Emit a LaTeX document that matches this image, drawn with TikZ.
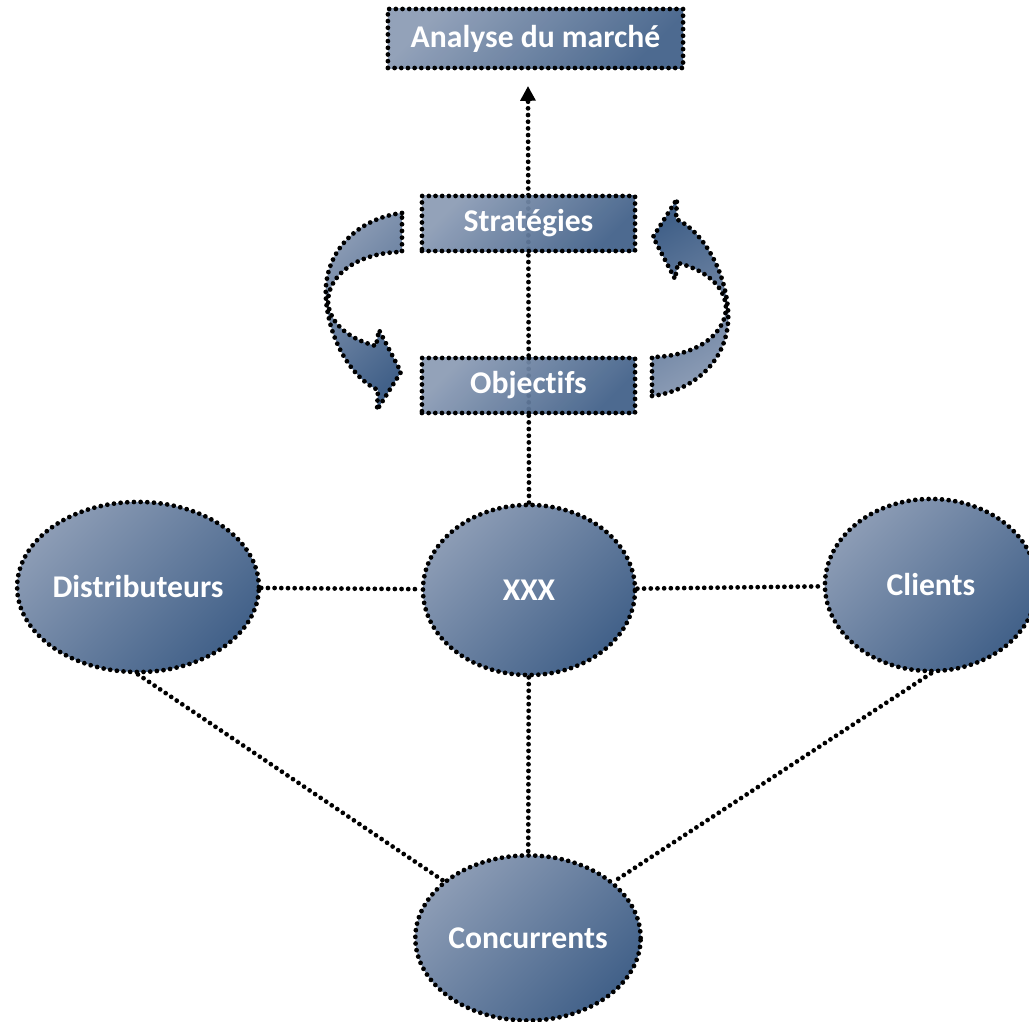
\documentclass[tikz,border=0pt]{standalone}
\usepackage{fontspec}
\setmainfont{Carlito}[Ligatures=NoCommon]
\usetikzlibrary{shapes.geometric,arrows.meta,backgrounds}
\definecolor{clair}{RGB}{140,156,181}
\definecolor{fonce}{RGB}{66,97,137}
% contour of the left curved arrow (pixel units)
\newcommand{\flechecourbe}{(402,213) .. controls (360,218) and (322,250) .. (326,300)
	.. controls (330,345) and (355,380) .. (378,390) -- (377,410) -- (401,372)
	-- (379,330) -- (376,346) .. controls (345,338) and (328,320) .. (328,300)
	.. controls (330,270) and (365,252) .. (402,252) -- cycle}

\begin{document}
\begin{tikzpicture}[x=0.01cm,y=-0.01cm]
	\tikzstyle{every node}=[font=\fontsize{9}{11}\selectfont\bfseries, text=white];
	\tikzstyle{pointille}=[line width=1.35pt, dash pattern=on 0pt off 1.9pt, line cap=round];
	\tikzstyle{degrade}=[top color=clair, bottom color=fonce, shading angle=45];
	\tikzstyle{boite}=[rectangle, draw, pointille, degrade, inner sep=0pt, fill opacity=0.94, text opacity=1];
	\tikzstyle{bulle}=[ellipse, draw, pointille, degrade, inner sep=0pt];
	\useasboundingbox (0,0) rectangle (1029,1022);

	\node [boite, minimum width=2.95cm, minimum height=0.59cm] (analyse) at (535.5,38.5) {Analyse du marché};
	\node [boite, minimum width=2.13cm, minimum height=0.55cm] (strategies) at (528.5,223.5) {Stratégies};
	\node [boite, minimum width=2.13cm, minimum height=0.55cm] (objectifs) at (528.5,385.5) {Objectifs};

	\node [bulle, minimum width=2.12cm, minimum height=1.70cm] (xxx) at (529,590) {XXX};
	\node [bulle, minimum width=2.40cm, minimum height=1.70cm] (distrib) at (138,587) {Distributeurs};
	\node [bulle, minimum width=2.12cm, minimum height=1.72cm] (clients) at (931,585) {Clients};
	\node [bulle, minimum width=2.13cm, minimum height=1.65cm] (concur) at (528,938) {Concurrents};
	\coordinate (sommet) at (528,86);

	% curved arrows
	\draw [pointille, degrade] \flechecourbe;
	\draw [pointille, top color=fonce, bottom color=clair, shading angle=30, rotate around={180:(527,304.5)}] \flechecourbe;

	\begin{scope}[on background layer]
		\draw [pointille, -{Triangle[length=4.2pt, width=4.2pt]}] (xxx.north) -- (sommet);
		\draw [pointille] (distrib) -- (xxx);
		\draw [pointille] (xxx) -- (clients);
		\draw [pointille] (xxx) -- (concur);
		\draw [pointille] (distrib.south) -- (concur);
		\draw [pointille] (clients.south) -- (concur);
	\end{scope}
\end{tikzpicture}
\end{document}
